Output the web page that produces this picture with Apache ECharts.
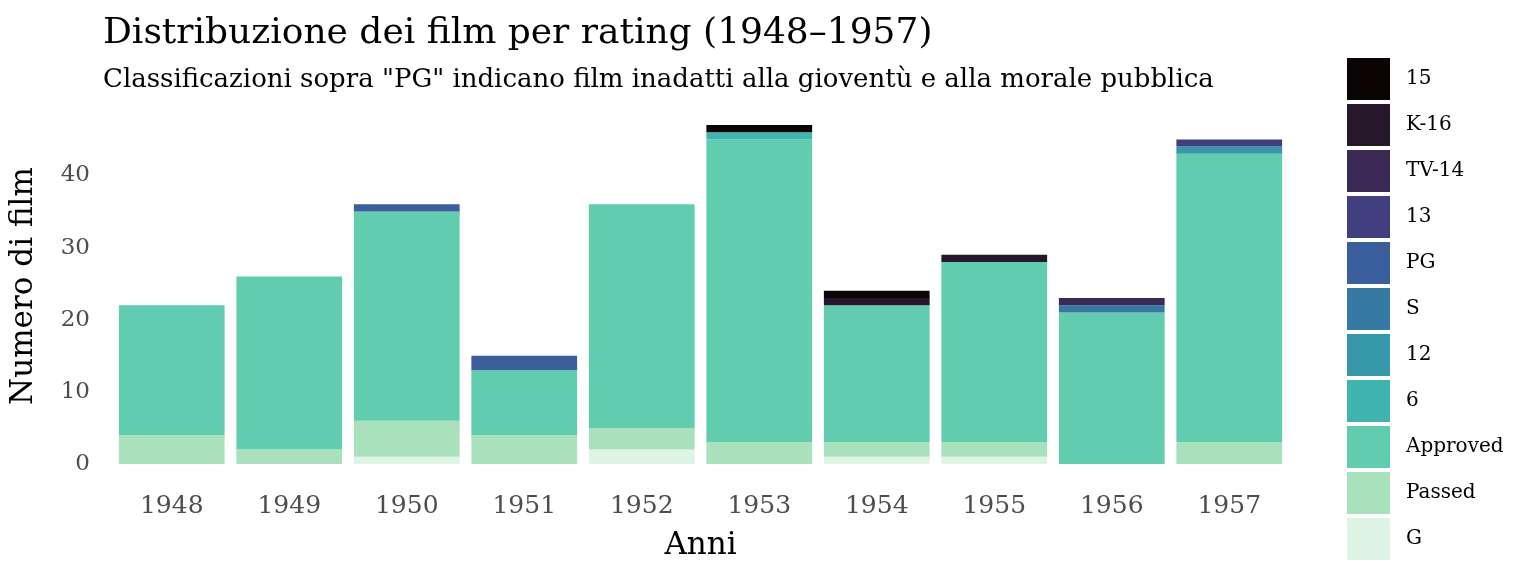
<!DOCTYPE html>
<html><head><meta charset="utf-8">
<script src="https://cdn.jsdelivr.net/npm/echarts@6/dist/echarts.min.js"></script>
<style>html,body{margin:0;padding:0;background:#fff}#c{width:1536px;height:576px}</style>
</head><body><div id="c"></div>
<script>
const years = ["1948","1949","1950","1951","1952","1953","1954","1955","1956","1957"];
const ratings = ["G","Passed","Approved","6","12","S","PG","13","TV-14","K-16","15"];
const colors = ["#def5e6","#aae1bd","#62cdae","#40b5af","#3597a8","#367aa3","#3b5e9c","#423f7f","#3a2a55","#26172a","#0b0405"];
const G        = [0,0,1,0,2,0,1,1,0,0];
const Passed   = [4,2,5,4,3,3,2,2,0,3];
const Approved = [18,24,29,9,31,42,19,25,21,40];
const r6       = [0,0,0,0,0,1,0,0,0,0];
const r12      = [0,0,0,0,0,0,0,0,0,1];
const S        = [0,0,0,0,0,0,0,0,1,0];
const PG       = [0,0,1,2,0,0,0,0,0,0];
const r13      = [0,0,0,0,0,0,0,0,0,1];
const TV14     = [0,0,0,0,0,0,0,0,1,0];
const K16      = [0,0,0,0,0,0,1,1,0,0];
const r15      = [0,0,0,0,0,1,1,0,0,0];
const yTicks = [0,10,20,30,40];
const values = [G,Passed,Approved,r6,r12,S,PG,r13,TV14,K16,r15];

const font = "DejaVu Serif";
const chart = echarts.init(document.getElementById('c'));
chart.setOption({
  backgroundColor:'#fff',
  animation:false,
  title:[
    {text:"Distribuzione dei film per rating (1948–1957)", left:98, top:11,
     textStyle:{fontFamily:font,fontSize:36,fontWeight:'normal',color:'#000'}},
    {text:'Classificazioni sopra "PG" indicano film inadatti alla gioventù e alla morale pubblica', left:98, top:62,
     textStyle:{fontFamily:font,fontSize:26,fontWeight:'normal',color:'#000'}}
  ],
  legend:{
    orient:'vertical', left:1342, top:53, itemWidth:43, itemHeight:42, itemGap:4,
    icon:'rect', data: ratings.slice().reverse(),
    textStyle:{fontFamily:font,fontSize:20,color:'#000',padding:[0,0,0,11]}
  },
  grid:{left:113, right:248, top:108, bottom:112, containLabel:false},
  xAxis:{
    type:'category', data:years,
    axisLine:{show:false}, axisTick:{show:false},
    axisLabel:{fontFamily:font,fontSize:25,color:'#4d4d4d',margin:30},
    name:'Anni', nameLocation:'middle', nameGap:66,
    nameTextStyle:{fontFamily:font,fontSize:31,color:'#000'}
  },
  yAxis:{
    type:'value', min:0, max:49.35, interval:10,
    splitLine:{show:false}, axisLine:{show:false}, axisTick:{show:false},
    axisLabel:{fontFamily:font,fontSize:23,color:'#4d4d4d',margin:23,padding:[5,0,0,0],
      formatter:v=> yTicks.includes(v)? String(v):''},
    name:'Numero di film', nameLocation:'middle', nameGap:74, nameRotate:90,
    nameTextStyle:{fontFamily:font,fontSize:31,color:'#000'}
  },
  series: ratings.map((r,i)=>({
    name:r, type:'bar', stack:'t', data:values[i], barCategoryGap:'10%',
    itemStyle:{color:colors[i]}
  }))
});
</script></body></html>
